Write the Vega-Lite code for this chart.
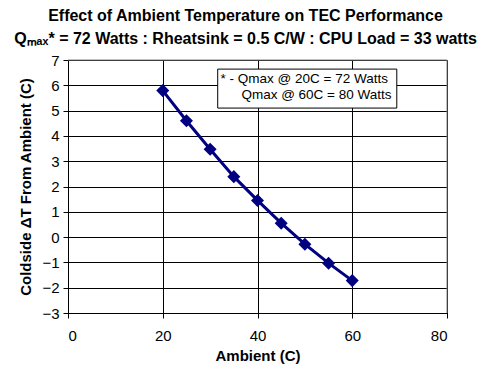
{
  "$schema": "https://vega.github.io/schema/vega-lite/v6.json",
  "width": 379,
  "height": 253,
  "autosize": {"type": "none"},
  "padding": {"left": 68, "top": 60, "right": 41, "bottom": 64},
  "background": "white",
  "config": {
    "font": "Liberation Sans",
    "view": {"stroke": "#808080", "strokeWidth": 1}
  },
  "title": {
    "text": "Effect of Ambient Temperature on TEC Performance",
    "subtitle": "Qₘₐₓ* = 72 Watts : Rheatsink = 0.5 C/W : CPU Load = 33 watts",
    "fontSize": 16,
    "fontWeight": "bold",
    "color": "black",
    "subtitleFontSize": 16,
    "subtitleFontWeight": "bold",
    "subtitleColor": "black",
    "subtitlePadding": 7,
    "anchor": "middle",
    "dx": -12,
    "offset": 6
  },
  "data": {
    "values": [
      {"Ambient": 20, "dT": 5.79},
      {"Ambient": 25, "dT": 4.6},
      {"Ambient": 30, "dT": 3.47},
      {"Ambient": 35, "dT": 2.39},
      {"Ambient": 40, "dT": 1.45},
      {"Ambient": 45, "dT": 0.55},
      {"Ambient": 50, "dT": -0.28},
      {"Ambient": 55, "dT": -1.03},
      {"Ambient": 60, "dT": -1.72}
    ]
  },
  "layer": [
    {
      "mark": {"type": "line", "color": "#000080", "strokeWidth": 3},
      "encoding": {
        "x": {
          "field": "Ambient",
          "type": "quantitative",
          "scale": {"domain": [0, 80], "nice": false, "zero": false},
          "axis": {
            "title": "Ambient (C)",
            "values": [0, 20, 40, 60, 80],
            "tickCount": 5,
            "grid": true,
            "gridColor": "#000000",
            "gridOpacity": 1,
            "gridWidth": 1,
            "domainColor": "black",
            "tickColor": "black",
            "tickSize": 5,
            "labelFontSize": 15,
            "labelColor": "black",
            "labelPadding": 10,
            "labelOverlap": false,
            "titleFontSize": 15,
            "titleFontWeight": "bold",
            "titleColor": "black",
            "titlePadding": 5
          }
        },
        "y": {
          "field": "dT",
          "type": "quantitative",
          "scale": {"domain": [-3, 7], "nice": false, "zero": false},
          "axis": {
            "title": "Coldside ΔT From Ambient (C)",
            "values": [-3, -2, -1, 0, 1, 2, 3, 4, 5, 6, 7],
            "tickCount": 11,
            "grid": true,
            "gridColor": "#000000",
            "gridOpacity": 1,
            "gridWidth": 1,
            "domainColor": "black",
            "tickColor": "black",
            "tickSize": 5,
            "labelFontSize": 15,
            "labelColor": "black",
            "labelPadding": 4,
            "labelOverlap": false,
            "titleFontSize": 15,
            "titleFontWeight": "bold",
            "titleColor": "black",
            "titlePadding": 8
          }
        }
      }
    },
    {
      "mark": {"type": "point", "shape": "diamond", "filled": true, "size": 170, "color": "#000080", "opacity": 1},
      "encoding": {
        "x": {"field": "Ambient", "type": "quantitative"},
        "y": {"field": "dT", "type": "quantitative"}
      }
    },
    {
      "data": {"values": [{"edge": "right"}]},
      "mark": {"type": "rule", "color": "#808080", "strokeWidth": 1},
      "encoding": {
        "x": {"datum": 80, "type": "quantitative"},
        "y": {"datum": -3, "type": "quantitative"},
        "y2": {"datum": 7}
      }
    },
    {
      "data": {"values": [{"edge": "top"}]},
      "mark": {"type": "rule", "color": "#808080", "strokeWidth": 1},
      "encoding": {
        "x": {"datum": 0, "type": "quantitative"},
        "x2": {"datum": 80},
        "y": {"datum": 7, "type": "quantitative"}
      }
    },
    {
      "data": {"values": [{"box": "note"}]},
      "mark": {"type": "rect", "fill": "white", "stroke": "black", "strokeWidth": 1},
      "encoding": {
        "x": {"datum": 31.6, "type": "quantitative"},
        "x2": {"datum": 69.4},
        "y": {"datum": 6.64, "type": "quantitative"},
        "y2": {"datum": 5.1}
      }
    },
    {
      "data": {"values": [{"line": "* - Qmax @ 20C = 72 Watts"}]},
      "mark": {"type": "text", "align": "left", "baseline": "alphabetic", "fontSize": 13.5, "color": "black"},
      "encoding": {
        "x": {"datum": 32.2, "type": "quantitative"},
        "y": {"datum": 6.09, "type": "quantitative"},
        "text": {"field": "line"}
      }
    },
    {
      "data": {"values": [{"line": "Qmax @ 60C = 80 Watts"}]},
      "mark": {"type": "text", "align": "left", "baseline": "alphabetic", "fontSize": 13.5, "color": "black"},
      "encoding": {
        "x": {"datum": 36.6, "type": "quantitative"},
        "y": {"datum": 5.46, "type": "quantitative"},
        "text": {"field": "line"}
      }
    }
  ]
}
